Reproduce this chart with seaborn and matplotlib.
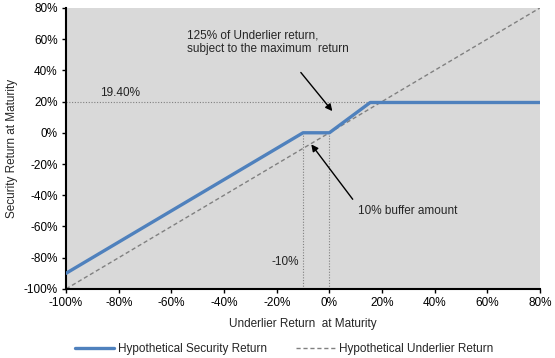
import matplotlib
matplotlib.use("Agg")
import matplotlib.pyplot as plt
import seaborn as sns
import pandas as pd
from matplotlib.ticker import FuncFormatter

sns.set_theme(style="white")
plt.rcParams['font.family'] = ['Liberation Sans', 'DejaVu Sans']

# Data
security_x = [-100, -10, 0, 15.52, 80]
security_y = [-90, 0, 0, 19.4, 19.4]
underlier_x = [-100, 80]
underlier_y = [-100, 80]
cap_level = 19.4
buffer_level = -10

sec_df = pd.DataFrame({"x": security_x, "y": security_y})
und_df = pd.DataFrame({"x": underlier_x, "y": underlier_y})

fig = plt.figure(figsize=(5.55, 3.58), dpi=100)
ax = fig.add_axes([0.119, 0.193, 0.854, 0.785])
ax.set_facecolor("#d9d9d9")

sns.lineplot(data=und_df, x="x", y="y", ax=ax, color="#808080", lw=1.0,
             linestyle=(0, (3, 2)), label="Hypothetical Underlier Return", zorder=2)
sns.lineplot(data=sec_df, x="x", y="y", ax=ax, color="#4f81bd", lw=2.4,
             label="Hypothetical Security Return", zorder=3)

# reference dotted lines
ax.plot([-100, 15.52], [cap_level, cap_level], color="#808080", lw=0.8, linestyle=(0, (1, 1.5)), zorder=1)
ax.plot([buffer_level, buffer_level], [-100, 0], color="#808080", lw=0.8, linestyle=(0, (1, 1.5)), zorder=1)
ax.plot([0, 0], [-100, 0], color="#808080", lw=0.8, linestyle=(0, (1, 1.5)), zorder=1)

ax.set_xlim(-100, 80)
ax.set_ylim(-100, 80)
ax.set_xticks(range(-100, 81, 20))
ax.set_yticks(range(-100, 81, 20))
pct = FuncFormatter(lambda v, p: f"{v:.0f}%")
ax.xaxis.set_major_formatter(pct)
ax.yaxis.set_major_formatter(pct)
ax.tick_params(axis="both", labelsize=8.5, length=3, width=1, direction="out", colors="black", pad=3)
ax.tick_params(bottom=True, left=True)
for s in ["top", "right"]:
    ax.spines[s].set_visible(False)
for s in ["left", "bottom"]:
    ax.spines[s].set_color("black")
    ax.spines[s].set_linewidth(1.5)

ax.set_xlabel("Underlier Return  at Maturity", fontsize=8.5, labelpad=6)
ax.set_ylabel("Security Return at Maturity", fontsize=8.5, labelpad=4)

ax.text(-87, 23.5, "19.40%", fontsize=8.5, color="#222222")
ax.text(-11.5, -83, "-10%", fontsize=8.5, color="#222222", ha="right", va="center")
ax.text(-54, 58, "125% of Underlier return,\nsubject to the maximum  return", fontsize=8.5,
        ha="left", va="center", linespacing=1.2)
ax.annotate("", xy=(1.8, 12.5), xytext=(-11.5, 40),
            arrowprops=dict(arrowstyle="-|>", color="black", lw=1.0, mutation_scale=10))
ax.text(11, -50, "10% buffer amount", fontsize=8.5, ha="left", va="center")
ax.annotate("", xy=(-7.5, -6), xytext=(9.5, -44),
            arrowprops=dict(arrowstyle="-|>", color="black", lw=1.0, mutation_scale=10))

handles, labels = ax.get_legend_handles_labels()
order = [1, 0]
ax.legend([handles[i] for i in order], [labels[i] for i in order],
          loc="center", bbox_to_anchor=(0.46, -0.215), ncol=2, frameon=False,
          fontsize=8.5, handlelength=3.3, columnspacing=2.4, handletextpad=0.4)

fig.savefig("out.png", dpi=100, facecolor="white")
